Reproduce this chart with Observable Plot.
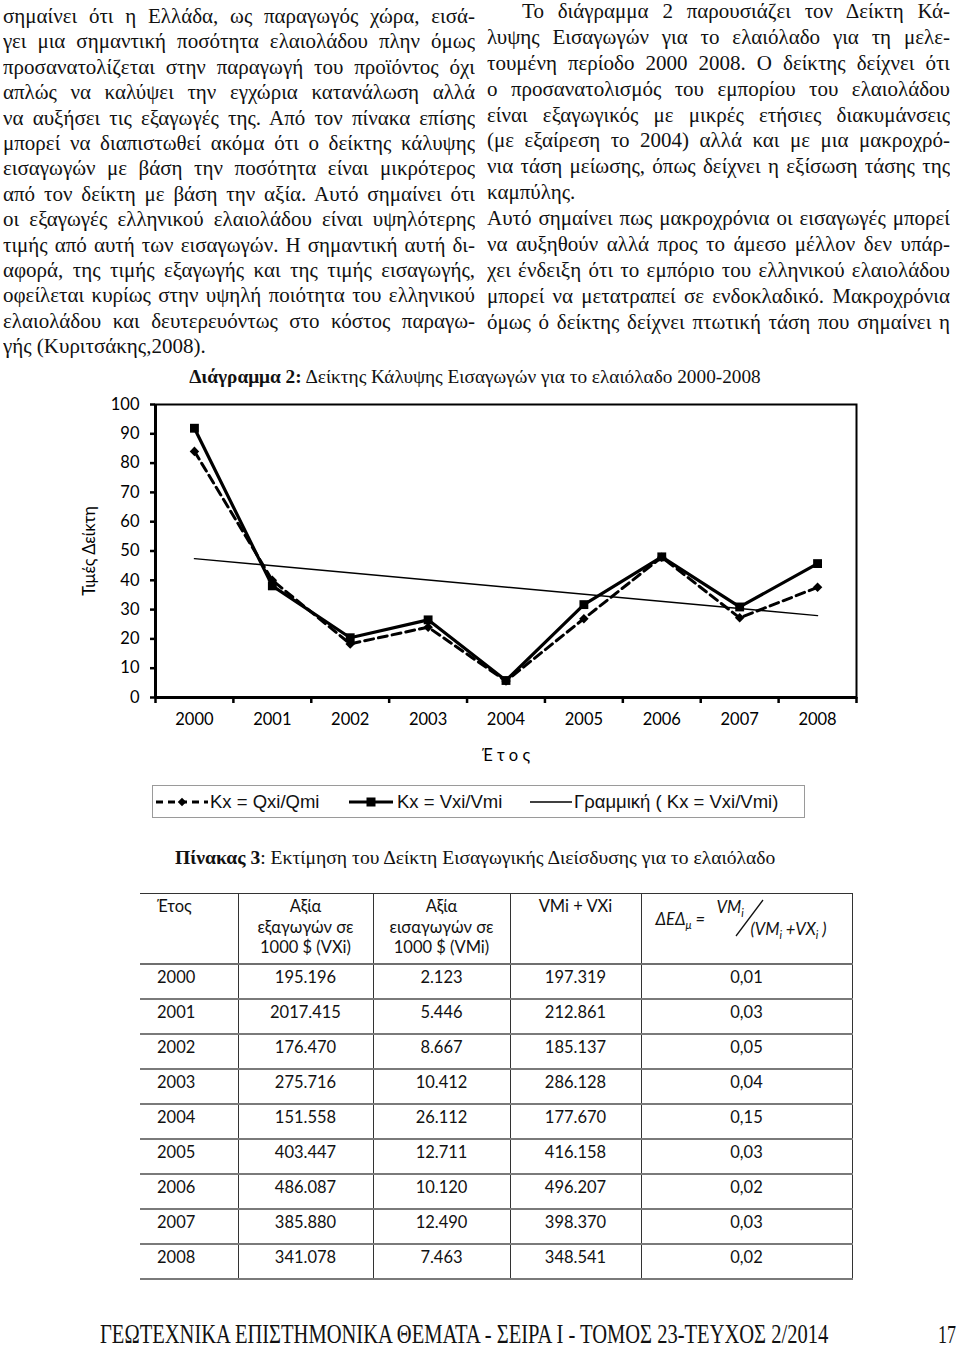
<!DOCTYPE html>
<html>
<head>
<meta charset="utf-8">
<script src="https://cdn.jsdelivr.net/npm/d3@7"></script>
<script src="https://cdn.jsdelivr.net/npm/@observablehq/plot@0.6"></script>
<style>
  html, body { margin: 0; padding: 0; background: #fff; }
  #page { position: relative; width: 960px; height: 1349px; overflow: hidden; background: #fff; color: #111; }
  .col { position: absolute; font-family: "Liberation Serif", "Times New Roman", serif; font-size: 21px; }
  .col .ln { text-align: justify; text-align-last: justify; white-space: normal; overflow: hidden; height: var(--lh); line-height: var(--lh); }
  .col .ln.last { text-align-last: left; }
  #chartTitle { position: absolute; left: 0; width: 950px; top: 366px; text-align: center; font-family: "Liberation Serif", serif; font-size: 19.3px; white-space: nowrap; }
  #chart { position: absolute; left: 60px; top: 390px; }
  #legend { position: absolute; left: 152px; top: 785px; width: 653px; height: 33px; border: 1px solid #9a9a9a; box-sizing: border-box; font-family: "Liberation Sans", Arial, sans-serif; font-size: 18.5px; }
  #legend .it { position: absolute; top: 0; height: 31px; line-height: 31px; white-space: nowrap; }
  #tableTitle { position: absolute; left: 175px; top: 847px; font-family: "Liberation Serif", serif; font-size: 19.6px; white-space: nowrap; }
  #tbl { position: absolute; left: 140px; top: 893px; border-collapse: collapse; font-family: Lato, "Open Sans", sans-serif; font-size: 16.5px; color: #111; }
  #tbl td { padding: 0; border-left: 1px solid #333; vertical-align: top; text-align: center; line-height: 20.5px; box-sizing: border-box; }
  #tbl td:first-child { border-left: none; text-align: left; padding-left: 17px; }
  #tbl td:last-child { border-right: 1px solid #333; }
  #tbl tr.head td { height: 70px; border-top: 1.5px solid #333; border-bottom: 2px solid #6f6f6f; padding-top: 2px; }
  #tbl tr.row td { height: 35.1px; border-bottom: 2px solid #7a7a7a; padding-top: 2px; }
  #footerSvg { position: absolute; left: 0; top: 1304px; overflow: visible; }
</style>
</head>
<body>
<div id="page">
  <div id="leftCol" class="col" style="left:3px; top:4px; width:472px; --lh:25.4px;"></div>
  <div id="rightCol" class="col" style="left:487px; top:-1px; width:463px; --lh:25.9px;"></div>
  <div id="chartTitle"><b>Διάγραμμα 2:</b> Δείκτης Κάλυψης Εισαγωγών για το ελαιόλαδο 2000-2008</div>
  <div id="chart"></div>
  <div id="legend"></div>
  <div id="tableTitle"><b>Πίνακας 3</b>: Εκτίμηση του Δείκτη Εισαγωγικής Διείσδυσης για το ελαιόλαδο</div>
  <table id="tbl"></table>
  <svg id="footerSvg" width="960" height="45">
    <text id="footerText" transform="translate(100,38.5) scale(1,1.3)" x="0" y="0" font-family="Liberation Serif, serif" font-size="18" fill="#111">ΓΕΩΤΕΧΝΙΚΑ ΕΠΙΣΤΗΜΟΝΙΚΑ ΘΕΜΑΤΑ - ΣΕΙΡΑ Ι - ΤΟΜΟΣ 23-ΤΕΥΧΟΣ 2/2014</text>
    <text id="pageText" transform="translate(938,38.5) scale(1,1.35)" x="0" y="0" font-family="Liberation Serif, serif" font-size="19" fill="#111">17</text>
  </svg>
</div>
<script>
// ---------- Chart data ----------
const years = [2000, 2001, 2002, 2003, 2004, 2005, 2006, 2007, 2008];
const kxQ = [84.0, 40.0, 18.3, 24.0, 5.6, 26.9, 47.9, 27.2, 37.6];   // Kx = Qxi/Qmi
const kxV = [91.9, 38.1, 20.4, 26.5, 5.8, 31.7, 48.0, 30.9, 45.7];   // Kx = Vxi/Vmi
const yTicks = [0, 10, 20, 30, 40, 50, 60, 70, 80, 90, 100];
const seriesNames = ["Kx = Qxi/Qmi", "Kx = Vxi/Vmi", "Γραμμική ( Kx = Vxi/Vmi)"];

// ---------- Table data ----------
const tableYears = ["2000", "2001", "2002", "2003", "2004", "2005", "2006", "2007", "2008"];
const exportsVX = ["195.196", "2017.415", "176.470", "275.716", "151.558", "403.447", "486.087", "385.880", "341.078"];
const importsVM = ["2.123", "5.446", "8.667", "10.412", "26.112", "12.711", "10.120", "12.490", "7.463"];
const sumVMVX = ["197.319", "212.861", "185.137", "286.128", "177.670", "416.158", "496.207", "398.370", "348.541"];
const ratioDED = ["0,01", "0,03", "0,05", "0,04", "0,15", "0,03", "0,02", "0,03", "0,02"];

// ---------- Text ----------
const leftLines = [
  "σημαίνει ότι η Ελλάδα, ως παραγωγός χώρα, εισά-",
  "γει μια σημαντική ποσότητα ελαιολάδου πλην όμως",
  "προσανατολίζεται στην παραγωγή του προϊόντος όχι",
  "απλώς να καλύψει την εγχώρια κατανάλωση αλλά",
  "να αυξήσει τις εξαγωγές της. Από τον πίνακα επίσης",
  "μπορεί να διαπιστωθεί ακόμα ότι ο δείκτης κάλυψης",
  "εισαγωγών με βάση την ποσότητα είναι μικρότερος",
  "από τον δείκτη με βάση την αξία. Αυτό σημαίνει ότι",
  "οι εξαγωγές ελληνικού ελαιολάδου είναι υψηλότερης",
  "τιμής από αυτή των εισαγωγών. Η σημαντική αυτή δι-",
  "αφορά, της τιμής εξαγωγής και της τιμής εισαγωγής,",
  "οφείλεται κυρίως στην υψηλή ποιότητα του ελληνικού",
  "ελαιολάδου και δευτερευόντως στο κόστος παραγω-",
  "γής (Κυριτσάκης,2008)."
];
const rightLines = [
  "Το διάγραμμα 2 παρουσιάζει τον Δείκτη Κά-",
  "λυψης Εισαγωγών για το ελαιόλαδο για τη μελε-",
  "τουμένη περίοδο 2000 2008.  Ο δείκτης δείχνει ότι",
  "ο προσανατολισμός του εμπορίου του ελαιολάδου",
  "είναι εξαγωγικός με μικρές ετήσιες διακυμάνσεις",
  "(με εξαίρεση το 2004) αλλά και με μια μακροχρό-",
  "νια τάση μείωσης, όπως δείχνει η εξίσωση τάσης της",
  "καμπύλης.",
  "Αυτό σημαίνει πως μακροχρόνια οι εισαγωγές μπορεί",
  "να αυξηθούν αλλά προς το άμεσο μέλλον δεν υπάρ-",
  "χει ένδειξη ότι το εμπόριο του ελληνικού ελαιολάδου",
  "μπορεί να μετατραπεί σε ενδοκλαδικό. Μακροχρόνια",
  "όμως  ό δείκτης δείχνει πτωτική τάση που σημαίνει η"
];

function fillCol(el, lines, lastIdx, indentIdx, avail) {
  lines.forEach((t, i) => {
    const d = document.createElement("div");
    d.className = "ln" + (lastIdx.includes(i) ? " last" : "");
    const indent = indentIdx.includes(i) ? 35 : 0;
    if (indent) d.style.paddingLeft = indent + "px";
    d.textContent = t;
    el.appendChild(d);
    const probe = document.createElement("span");
    probe.style.whiteSpace = "nowrap";
    probe.style.position = "absolute";
    probe.style.visibility = "hidden";
    probe.textContent = t;
    el.appendChild(probe);
    const w = probe.getBoundingClientRect().width;
    el.removeChild(probe);
    const room = avail - indent - 2;
    if (w > room) d.style.letterSpacing = ((room - w) / t.length) + "px";
  });
}
fillCol(document.getElementById("leftCol"), leftLines, [13], [], 472);
fillCol(document.getElementById("rightCol"), rightLines, [7], [0], 463);

// ---------- Footer: fit widths by adjusting font size ----------
function fitSvgText(id, target) {
  const el = document.getElementById(id);
  const fs = parseFloat(el.getAttribute("font-size"));
  const w = el.getComputedTextLength();
  if (w > 0) el.setAttribute("font-size", (fs * target / w).toFixed(2));
}
fitSvgText("footerText", 728);
fitSvgText("pageText", 18);

// ---------- Chart ----------
const rowsQ = years.map((year, i) => ({year, value: kxQ[i]}));
const rowsV = years.map((year, i) => ({year, value: kxV[i]}));
const bounds = years.map(y => y - 0.5).concat([years[years.length - 1] + 0.5]);

const chart = Plot.plot({
  width: 810,
  height: 385,
  marginLeft: 95,
  marginRight: 14,
  marginTop: 14,
  marginBottom: 78,
  style: {fontFamily: "Lato, 'Open Sans', sans-serif", fontSize: "16.5px", color: "black", background: "white", overflow: "visible"},
  x: {domain: [bounds[0], bounds[bounds.length - 1]]},
  y: {domain: [0, 100]},
  marks: [
    Plot.frame({stroke: "black", strokeWidth: 2}),
    Plot.axisY({ticks: yTicks, tickSize: 5, tickPadding: 11, strokeWidth: 2.5, label: "Τιμές Δείκτη", labelAnchor: "center", labelArrow: "none", labelOffset: 72, fontSize: 16.5}),
    Plot.axisX({ticks: bounds, tickSize: 6, tickFormat: () => "", strokeWidth: 2.5, label: null}),
    Plot.axisX({ticks: years, tickSize: 0, tickPadding: 16, tickFormat: d => String(d), label: "Έ τ ο ς", labelAnchor: "center", labelArrow: "none", labelOffset: 63, fontSize: 16.5}),
    Plot.ruleY([0], {stroke: "black", strokeWidth: 3}),
    Plot.ruleX([bounds[0]], {stroke: "black", strokeWidth: 3}),
    Plot.linearRegressionY(rowsV, {x: "year", y: "value", ci: 0, stroke: "black", strokeWidth: 1.4}),
    Plot.line(rowsQ, {x: "year", y: "value", stroke: "black", strokeWidth: 3, strokeDasharray: "9,5"}),
    Plot.dot(rowsQ, {x: "year", y: "value", symbol: "square", rotate: 45, r: 3.8, fill: "black", stroke: "none"}),
    Plot.line(rowsV, {x: "year", y: "value", stroke: "black", strokeWidth: 3.2}),
    Plot.dot(rowsV, {x: "year", y: "value", symbol: "square", r: 5, fill: "black", stroke: "none"})
  ]
});
document.getElementById("chart").appendChild(chart);

// ---------- Legend ----------
const legend = document.getElementById("legend");
const legendDefs = [
  {x: 3, w: 52, dash: "7,5", sw: 3, mark: "diamond", tx: 57},
  {x: 196, w: 44, dash: null, sw: 3.2, mark: "square", tx: 244},
  {x: 377, w: 42, dash: null, sw: 1.3, mark: null, tx: 421}
];
legendDefs.forEach((d, i) => {
  const s = document.createElementNS("http://www.w3.org/2000/svg", "svg");
  s.setAttribute("width", d.w); s.setAttribute("height", 31);
  s.style.position = "absolute"; s.style.left = d.x + "px"; s.style.top = "0px";
  let inner = `<line x1="0" x2="${d.w}" y1="16" y2="16" stroke="black" stroke-width="${d.sw}" ${d.dash ? `stroke-dasharray="${d.dash}"` : ""}/>`;
  if (d.mark === "diamond") inner += `<rect x="${d.w/2 - 3}" y="13" width="6" height="6" fill="black" transform="rotate(45 ${d.w/2} 16)"/>`;
  if (d.mark === "square") inner += `<rect x="${d.w/2 - 4.5}" y="11.5" width="9" height="9" fill="black"/>`;
  s.innerHTML = inner;
  legend.appendChild(s);
  const t = document.createElement("div");
  t.className = "it"; t.style.left = d.tx + "px"; t.textContent = seriesNames[i];
  legend.appendChild(t);
});

// ---------- Table ----------
const tbl = document.getElementById("tbl");
const colW = [98, 135, 137, 131, 211];
const head = document.createElement("tr"); head.className = "head";
const headCells = [
  "Έτος",
  "Αξία<br>εξαγωγών σε<br>1000 $ (VXi)",
  "Αξία<br>εισαγωγών σε<br>1000 $ (VMi)",
  "VMi + VXi",
  `<div style="position:relative;height:66px;font-style:italic;font-size:16.5px;">
     <span style="position:absolute;left:14px;top:13px;white-space:nowrap;">ΔΕΔ<sub style="font-size:11px">μ</sub> =</span>
     <span style="position:absolute;left:75px;top:1px;white-space:nowrap;">VM<sub style="font-size:11px">i</sub></span>
     <svg style="position:absolute;left:0;top:0" width="211" height="66"><line x1="94" y1="40" x2="121" y2="4" stroke="#111" stroke-width="1.3"/></svg>
     <span style="position:absolute;left:109px;top:23px;white-space:nowrap;">(VM<sub style="font-size:11px">i</sub> +VX<sub style="font-size:11px">i</sub> )</span>
   </div>`
];
headCells.forEach((h, i) => {
  const td = document.createElement("td");
  td.style.width = colW[i] + "px";
  td.innerHTML = h;
  head.appendChild(td);
});
tbl.appendChild(head);
tableYears.forEach((y, i) => {
  const tr = document.createElement("tr"); tr.className = "row";
  [y, exportsVX[i], importsVM[i], sumVMVX[i], ratioDED[i]].forEach((v, j) => {
    const td = document.createElement("td");
    td.style.width = colW[j] + "px";
    td.textContent = v;
    tr.appendChild(td);
  });
  tbl.appendChild(tr);
});
</script>
</body>
</html>
